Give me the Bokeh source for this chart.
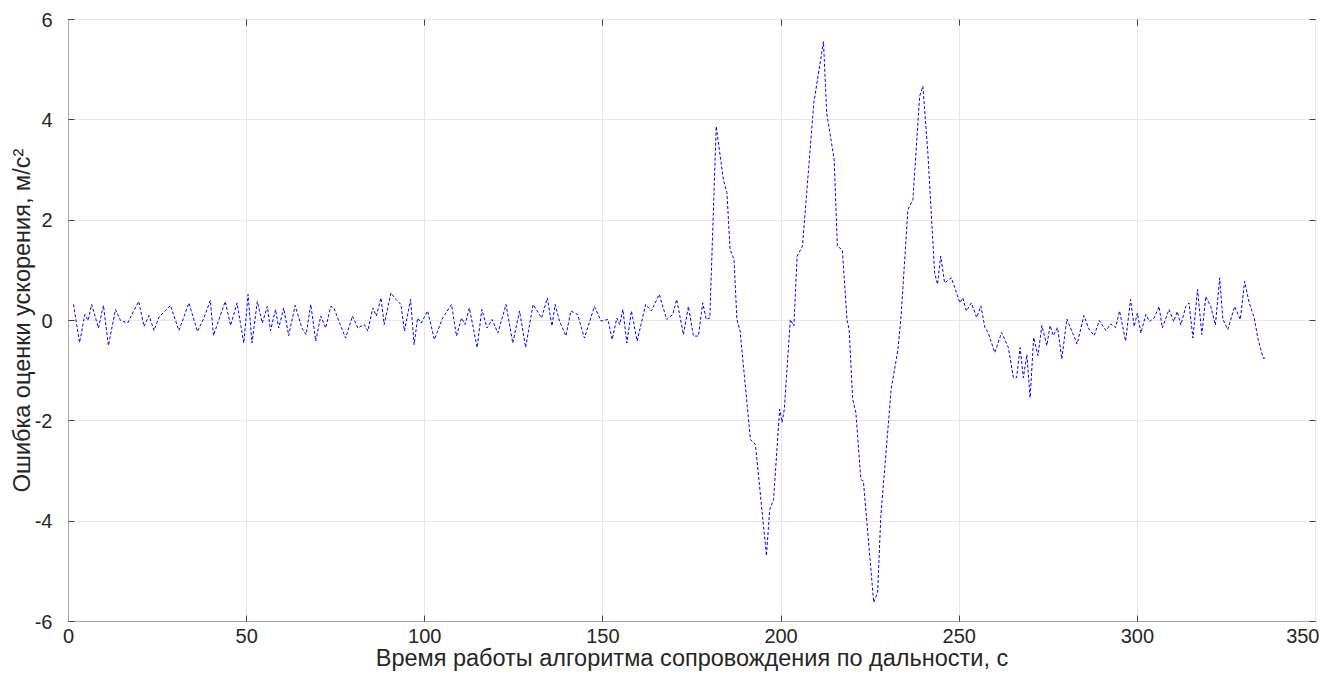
from bokeh.plotting import figure
from bokeh.models import LinearAxis, FixedTicker, Range1d
from bokeh.embed import file_html
from bokeh.resources import INLINE

# time, s
t = [1.4, 3.1, 4.6, 5.5, 6.5, 8.4, 9.8, 11.2, 13.2, 14.6, 16.6, 18.0, 19.7, 21.2, 22.6, 24.0, 25.4,
     28.6, 31.0, 33.8, 36.2, 38.0, 39.8, 40.7, 42.6, 44.0, 45.5, 47.3, 49.2, 50.4, 51.5, 53.0, 54.4,
     55.8, 56.7, 58.1, 59.0, 60.4, 61.8, 63.6, 65.5,
     66.7, 68.0, 69.4, 70.8, 72.2, 73.6, 74.5, 76.4, 77.8, 79.7, 81.2, 83.0, 84.0, 85.4, 86.4, 87.7,
     88.6, 90.5, 91.9, 93.3, 94.3, 96.0, 97.0, 98.0, 99.0, 100.8, 102.7, 105.0, 107.5, 108.9, 110.3,
     111.3, 112.5, 114.7, 116.0, 117.5, 118.9, 120.5, 122.8, 124.7, 126.6, 128.3, 130.4, 132.8,
     134.4, 135.7, 136.6, 137.8, 139.6, 141.0, 142.9, 144.8, 147.6, 149.5, 151.4, 152.6, 153.9,
     154.7, 155.6, 156.7, 158.0, 159.6, 162.0, 163.6, 165.8, 167.9, 169.6, 170.7, 172.6, 174.0,
     175.4, 176.8, 178.0, 179.0, 180.0,
     181.8, 183.8, 184.8, 185.7, 186.8, 187.6, 188.5, 191.4, 192.8, 195.9, 196.8, 197.9, 199.6,
     200.3, 200.9, 202.6, 203.6, 204.5, 206.0, 209.2, 211.9, 212.8, 214.9, 215.8, 217.2, 218.5,
     219.1, 220.1, 221.0, 222.4, 223.1, 226.0, 227.1, 228.0, 230.9, 232.8, 233.7, 235.6, 237.0,
     238.9, 239.8, 241.2, 243.1, 243.9, 244.8, 245.9, 247.8, 250.2, 251.0, 252.0, 253.4, 254.9,
     256.1, 257.2, 258.1, 260.0, 261.9, 263.8, 265.2, 266.1, 267.1, 268.0, 269.0, 269.9, 270.9,
     272.1, 273.2, 274.6, 275.5, 276.4, 277.6, 278.8, 280.2, 283.1, 285.0, 286.4, 287.9, 289.3,
     291.2, 292.5, 293.9, 295.0, 296.7, 298.1, 299.1, 300.0, 301.0, 302.4, 303.4, 304.7, 306.1,
     307.0, 308.9, 310.2, 311.2, 312.2, 313.6, 314.5, 315.6, 316.9, 318.1, 319.2, 320.6, 321.9,
     323.1, 324.0, 325.4, 327.3, 328.9, 330.1, 331.4, 332.8, 333.9, 335.3, 336.3]

# acceleration estimate error, m/s^2
err = [0.32, -0.44, 0.12, 0.0, 0.32, -0.15, 0.3, -0.5, 0.22, 0.0, -0.05, 0.15, 0.38, -0.12, 0.1, -0.2, 0.07,
       0.3, -0.2, 0.35, -0.22, 0.05, 0.4, -0.3, 0.1, 0.38, -0.1, 0.35, -0.45, 0.52, -0.45, 0.38, -0.05,
       0.28, -0.2, 0.22, -0.15, 0.25, -0.3, 0.3, -0.15,
       -0.28, 0.32, -0.41, 0.09, -0.15, 0.28, 0.25, -0.11, -0.35, 0.09, -0.15, -0.08, -0.21, 0.25, 0.09, 0.45,
       -0.08, 0.55, 0.42, 0.32, -0.21, 0.42, -0.48, 0.05, -0.05, 0.19, -0.38, 0.05, 0.32, -0.31, 0.05,
       -0.08, 0.25, -0.54, 0.22, -0.15, 0.02, -0.25, 0.32, -0.45, 0.19, -0.54, 0.32, 0.05,
       0.45, -0.11, 0.32, -0.01, -0.31, 0.19, 0.12, -0.35, 0.28, -0.01, 0.02, -0.38, 0.05,
       -0.08, 0.22, -0.45, 0.19, -0.41, 0.32, 0.19, 0.52, 0.02, 0.12, 0.42, -0.28, 0.28,
       -0.31, -0.31, 0.35, 0.02, 0.05,
       3.87, 2.81, 2.55, 1.41, 1.22, 0.02, -0.21, -2.37, -2.47, -4.69, -3.77, -3.57, -1.77,
       -2.03, -1.77, 0.02, -0.11, 1.28, 1.48, 4.34, 5.56, 4.14, 3.21, 1.48, 1.41, 0.02,
       -0.18, -1.57, -1.84, -3.17, -3.2, -5.62, -5.42, -3.9, -1.37, -0.58, 0.1, 2.21, 2.41,
       4.47, 4.67, 3.34, 0.95, 0.72, 1.28, 0.75, 0.85, 0.35, 0.45, 0.19, 0.35, 0.06,
       0.29, -0.14, -0.24, -0.64, -0.24, -0.54, -1.14, -1.14, -0.54, -1.14, -0.68, -1.54, -0.34,
       -0.7, -0.1, -0.5, -0.1, -0.3, -0.14, -0.77, 0.03, -0.47, 0.1, -0.17, -0.3, 0.0,
       -0.2, -0.07, -0.14, 0.19, -0.41, 0.42, -0.12, 0.15, -0.25, 0.12, -0.02, 0.05, 0.28,
       -0.15, 0.22, -0.02, 0.18, -0.09, 0.28, 0.35, -0.35, 0.62, -0.28, 0.48, 0.28, -0.09,
       0.85, 0.02, -0.18, 0.28, 0.02, 0.78, 0.35, 0.05, -0.38, -0.75, -0.75]

x_ticks = [0, 50, 100, 150, 200, 250, 300, 350]
y_ticks = [-6, -4, -2, 0, 2, 4, 6]
y_tick_labels = {v: str(v) for v in y_ticks}

FONT = "Liberation Sans"

p = figure(width=1319, height=676, output_backend="svg", toolbar_location=None,
           x_range=Range1d(0, 350), y_range=Range1d(-6, 6),
           min_border_left=68, min_border_right=4, min_border_top=19, min_border_bottom=55,
           background_fill_color="white", border_fill_color="white")

p.line(t, err, line_color="#0000ff", line_width=1, line_dash="3 2")

p.xaxis.ticker = FixedTicker(ticks=x_ticks)
p.yaxis.ticker = FixedTicker(ticks=y_ticks)
p.yaxis.major_label_overrides = y_tick_labels
p.xaxis.axis_label = "Время работы алгоритма сопровождения по дальности, с"
p.yaxis.axis_label = "Ошибка оценки ускорения, м/с²"

for ax in (p.xaxis[0], p.yaxis[0]):
    ax.axis_line_color = "#a8a8a8"
    ax.major_tick_line_color = "#404040"
    ax.major_tick_in = 6
    ax.major_tick_out = 0
    ax.minor_tick_line_color = None
    ax.major_label_text_font = FONT
    ax.major_label_text_font_size = "20px"
    ax.major_label_text_color = "#262626"
    ax.axis_label_text_font = FONT
    ax.axis_label_text_font_size = "23.5px"
    ax.axis_label_text_font_style = "normal"
    ax.axis_label_text_color = "#262626"

p.xaxis.major_label_standoff = 7
p.xaxis.axis_label_standoff = -1
p.yaxis.major_label_standoff = 16
p.yaxis.axis_label_standoff = -3

p.xgrid.grid_line_color = "#e8e8e8"
p.ygrid.grid_line_color = "#e8e8e8"
p.xgrid.ticker = FixedTicker(ticks=x_ticks)
p.ygrid.ticker = FixedTicker(ticks=y_ticks)

# box ticks on top and right, no labels
top = LinearAxis(ticker=FixedTicker(ticks=x_ticks), major_label_text_font_size="0px",
                 major_label_standoff=0, axis_line_color="#e8e8e8",
                 major_tick_line_color="#404040", major_tick_in=6, major_tick_out=0,
                 minor_tick_line_color=None)
right = LinearAxis(ticker=FixedTicker(ticks=y_ticks), major_label_text_font_size="0px",
                   major_label_standoff=0, axis_line_color="#e8e8e8",
                   major_tick_line_color="#404040", major_tick_in=6, major_tick_out=0,
                   minor_tick_line_color=None)
p.add_layout(top, "above")
p.add_layout(right, "right")
p.outline_line_color = None

open("out.html", "w").write(file_html(p, INLINE))
